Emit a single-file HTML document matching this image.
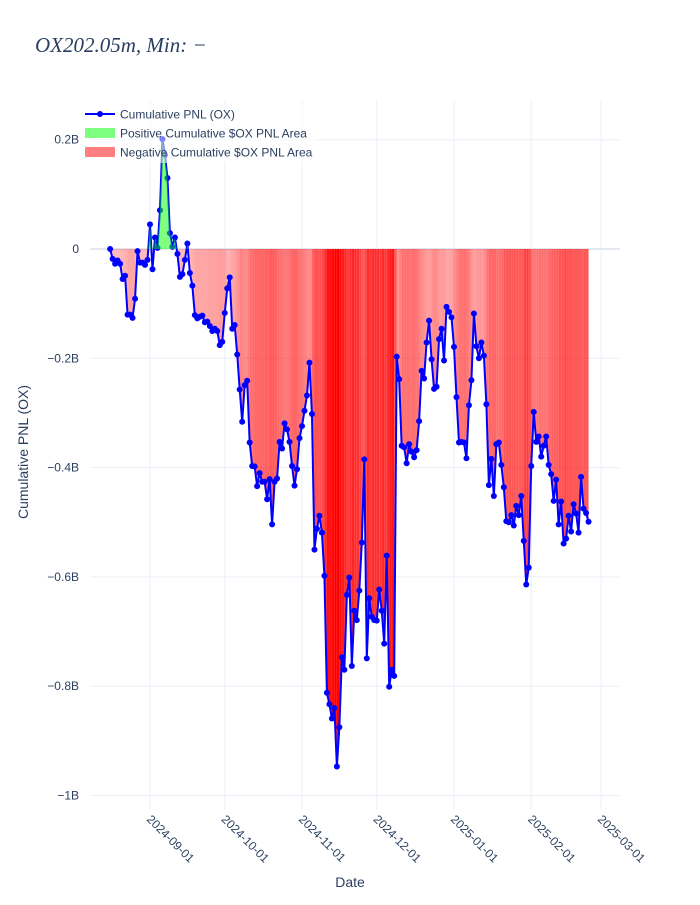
<!DOCTYPE html>
<html><head><meta charset="utf-8"><style>
body{margin:0;background:#fff;}
svg text{font-family:"Liberation Sans",sans-serif;}
</style></head><body>
<svg id="chart" width="700" height="900" xmlns="http://www.w3.org/2000/svg">
<text x="35" y="52" font-family="Liberation Serif,serif" font-style="italic" font-size="21" fill="#2a3f5f" style="font-family:'Liberation Serif',serif">OX202.05m, Min: −</text>
<g id="grid"></g>
<g id="fillsNeg"></g>
<g id="series"></g>
<g id="fillsPos"></g>
<g id="axes"></g>
<g>
<rect x="83" y="103" width="234" height="60" fill="rgba(255,255,255,0.5)"/>
<line x1="85" y1="114" x2="115" y2="114" stroke="#0000ff" stroke-width="2"/>
<circle cx="100" cy="114" r="3" fill="#0000ff"/>
<text x="120" y="118.5" font-size="12" fill="#2a3f5f">Cumulative PNL (OX)</text>
<rect x="85" y="128" width="30" height="10" fill="rgba(0,255,0,0.5)"/>
<text x="120" y="137.5" font-size="12" fill="#2a3f5f">Positive Cumulative $OX PNL Area</text>
<rect x="85" y="147" width="30" height="10" fill="rgba(255,0,0,0.5)"/>
<text x="120" y="156.5" font-size="12" fill="#2a3f5f">Negative Cumulative $OX PNL Area</text>
</g>
<text x="350" y="887" font-size="14" fill="#2a3f5f" text-anchor="middle">Date</text>
<text x="28" y="452" font-size="14" fill="#2a3f5f" text-anchor="middle" transform="rotate(-90 28 452)">Cumulative PNL (OX)</text>
</svg>
<script>
const startDate = "2024-08-16";
const pnlValues = [0,-0.018,-0.027,-0.021,-0.027,-0.055,-0.049,-0.12,-0.12,-0.126,-0.091,-0.004,-0.025,-0.025,-0.029,-0.02,0.045,-0.037,0.021,0.002,0.071,0.201,0.172,0.13,0.029,0.004,0.021,-0.009,-0.051,-0.046,-0.02,0.01,-0.044,-0.067,-0.121,-0.127,-0.124,-0.122,-0.134,-0.133,-0.141,-0.15,-0.146,-0.15,-0.176,-0.17,-0.117,-0.072,-0.052,-0.146,-0.139,-0.193,-0.257,-0.316,-0.249,-0.241,-0.354,-0.397,-0.398,-0.434,-0.41,-0.426,-0.426,-0.458,-0.421,-0.504,-0.426,-0.42,-0.353,-0.365,-0.319,-0.33,
-0.353,-0.397,-0.433,-0.403,-0.346,-0.324,-0.296,-0.268,-0.208,-0.302,-0.55,-0.512,-0.488,-0.519,-0.598,-0.812,-0.833,-0.859,-0.84,-0.947,-0.875,-0.747,-0.77,-0.633,-0.601,-0.763,-0.662,-0.679,-0.625,-0.537,-0.385,-0.749,-0.639,-0.673,-0.679,-0.68,-0.623,-0.662,-0.722,-0.561,-0.801,-0.77,-0.781,-0.197,
-0.238,-0.36,-0.363,-0.392,-0.357,-0.371,-0.381,-0.368,-0.315,-0.223,-0.237,-0.171,-0.131,-0.202,-0.256,-0.252,-0.165,-0.146,-0.204,-0.106,-0.115,-0.125,-0.179,-0.271,-0.354,-0.353,-0.354,-0.383,-0.286,-0.24,-0.118,-0.178,-0.2,-0.171,-0.195,-0.284,-0.432,-0.384,-0.452,-0.357,-0.354,-0.395,-0.436,-0.498,-0.5,-0.487,-0.506,-0.47,-0.487,-0.452,-0.534,-0.614,-0.583,-0.397,-0.298,-0.353,-0.343,-0.38,-0.36,-0.343,-0.395,-0.412,-0.461,-0.422,-0.504,-0.462,-0.539,-0.53,-0.488,-0.517,-0.467,-0.484,-0.519,-0.417,-0.475,-0.483,-0.499];
const xTickLabels = ["2024-09-01","2024-10-01","2024-11-01","2024-12-01","2025-01-01","2025-02-01","2025-03-01"];
const yTickValues = [0.2,0,-0.2,-0.4,-0.6,-0.8,-1];
const yTickLabels = ["0.2B","0","−0.2B","−0.4B","−0.6B","−0.8B","−1B"];

const NS="http://www.w3.org/2000/svg";
const L=90,R=620,T=100,B=810;
const DAY=86400000, ref=Date.UTC(2024,8,1), PXD=451/181;
function toMs(s){const p=s.split('-');return Date.UTC(+p[0],+p[1]-1,+p[2]);}
function xScale(ms){return 150+(ms-ref)/DAY*PXD;}
function yScale(v){return 249-v*546.5;}
function mk(tag,attrs,parent){const e=document.createElementNS(NS,tag);for(const k in attrs)e.setAttribute(k,attrs[k]);parent.appendChild(e);return e;}
const grid=document.getElementById('grid'),axes=document.getElementById('axes');
xTickLabels.forEach((s)=>{
  const x=xScale(toMs(s));
  const l=mk('line',{x1:x,x2:x,y1:T,y2:B,stroke:'#ebf0f8','stroke-width':1},grid);
  
  
  const t=mk('text',{x:x-4,y:B+10,'font-size':12,fill:'#2a3f5f',transform:`rotate(45 ${x-4} ${B+10})`},axes);
  t.textContent=s;
  
  
});
yTickValues.forEach((v,i)=>{
  const y=yScale(v);
  const l=mk('line',{x1:L,x2:R,y1:y,y2:y,stroke:v===0?'#e3e8f0':'#ebf0f8','stroke-width':v===0?2:1},grid);
  
  
  const t=mk('text',{x:79,y:y+4,'font-size':12,fill:'#2a3f5f','text-anchor':'end'},axes);
  t.textContent=yTickLabels[i];
  
  
});
const s0=toMs(startDate);
const pts=pnlValues.map((v,i)=>[xScale(s0+i*DAY),yScale(v),v]);
const neg=document.getElementById('fillsNeg'),pos=document.getElementById('fillsPos');
const y0=yScale(0);
for(let i=0;i<pts.length-1;i++){
  const a=pts[i],b=pts[i+1];
  const segs=[];
  if((a[2]>=0)===(b[2]>=0)) segs.push([a,b]);
  else{const t=a[2]/(a[2]-b[2]);const m=[a[0]+(b[0]-a[0])*t,y0,0];segs.push([a,m]);segs.push([m,b]);}
  segs.forEach(([p,q])=>{
    const mv=(p[2]+q[2])/2;
    const d=`M${p[0]},${y0}L${p[0]},${p[1]}L${q[0]},${q[1]}L${q[0]},${y0}Z`;
    if(mv<0){
      const al=Math.min(1,0.25+0.8*Math.abs(mv)/0.95);
      const e=mk('path',{d:d,fill:`rgba(255,0,0,${al.toFixed(3)})`},neg);
      
      
    }else if(mv>0){
      const e=mk('path',{d:d,fill:'rgba(0,255,0,0.5)'},pos);
      
      
    }
  });
}
const ser=document.getElementById('series');
const line=mk('polyline',{points:pts.map(p=>p[0].toFixed(2)+','+p[1].toFixed(2)).join(' '),fill:'none',stroke:'#0000ff','stroke-width':2,'stroke-linejoin':'round'},ser);


pts.forEach(p=>{
  const c=mk('circle',{cx:p[0],cy:p[1],r:3,fill:'#0000ff'},ser);
  
  
});
</script>
</body></html>
